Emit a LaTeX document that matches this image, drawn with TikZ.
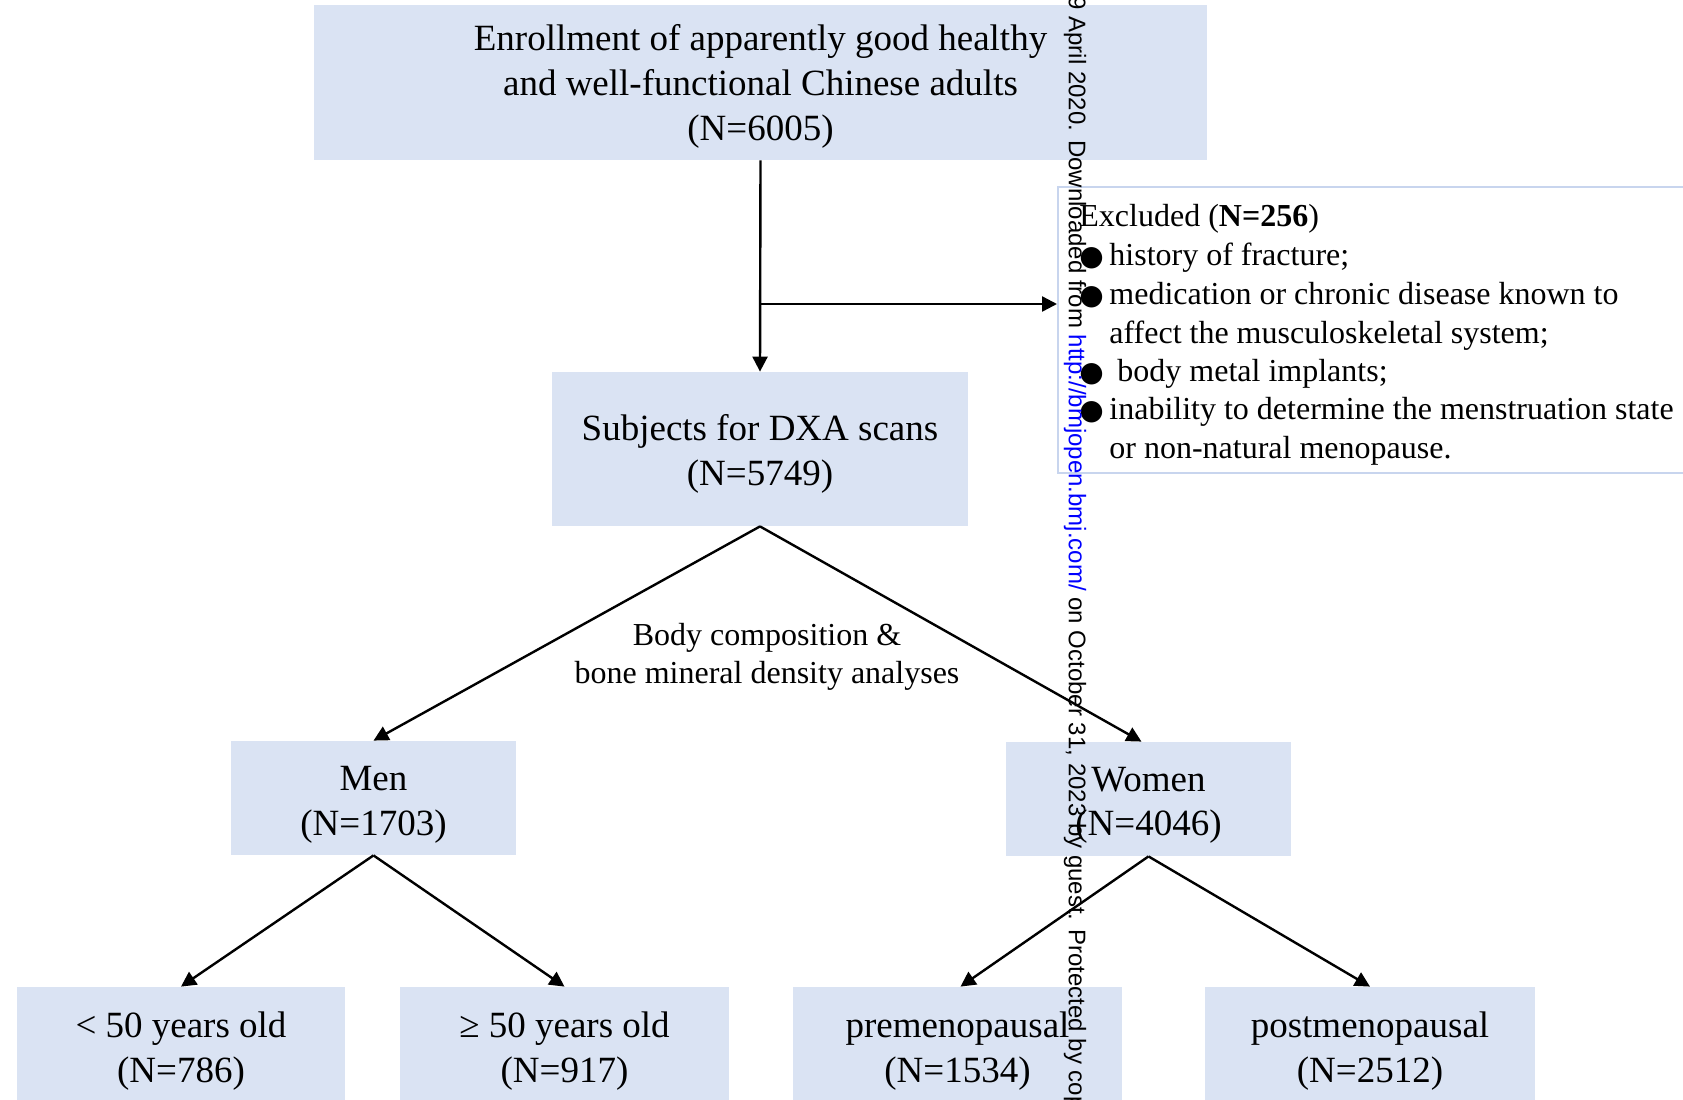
\documentclass[tikz,border=0pt]{standalone}
\usepackage{fontspec}
\setmainfont{Liberation Serif}
\newfontfamily\wmfont{Liberation Sans}
\newfontfamily\symfont{DejaVu Sans}
\usetikzlibrary{arrows.meta}
\definecolor{boxfill}{HTML}{DAE3F3}
\definecolor{exclborder}{HTML}{C8D5EE}
\definecolor{linkblue}{HTML}{0000FF}
\newcommand{\bul}{\makebox[15pt][l]{\symfont\fontsize{14}{14}\selectfont ●}}
\begin{document}
\begin{tikzpicture}[x=0.5pt,y=-0.5pt,
  box/.style={fill=boxfill, draw=none, inner sep=0pt},
  boxtext/.style={inner sep=0pt, align=center, font=\fontsize{18.5}{22.4}\selectfont},
  arr/.style={-{Triangle[length=7.5pt,width=7.5pt]}, line width=1.2pt},
  exline/.style={anchor=base west, inner sep=0pt, font=\fontsize{16}{19.2}\selectfont}]
\useasboundingbox (0,0) rectangle (1683,1099);
\fill[white] (0,0) rectangle (1683,1099);

% boxes
\node[box, minimum width=446.5pt, minimum height=77.5pt] (top) at (760.5,82.5) {};
\node[box, minimum width=208pt, minimum height=77pt] (subj) at (760,449) {};
\node[box, minimum width=142.5pt, minimum height=57pt] (men) at (373.5,798) {};
\node[box, minimum width=142.5pt, minimum height=57pt] (women) at (1148.5,799) {};
\node[box, minimum width=164pt, minimum height=62pt] (lt) at (181,1049) {};
\node[box, minimum width=164.5pt, minimum height=62pt] (ge) at (564.5,1049) {};
\node[box, minimum width=164.5pt, minimum height=62pt] (pre) at (957.5,1049) {};
\node[box, minimum width=165pt, minimum height=62pt] (post) at (1370,1049) {};

% box texts
\node[boxtext] (topt) at ([yshift=-2.1pt]top.center)
  {Enrollment of apparently good healthy\\and well-functional Chinese adults\\(N=6005)};
\node[boxtext] (subjt) at ([yshift=-2.6pt]subj.center) {Subjects for DXA scans\\(N=5749)};
\node[boxtext] (ment) at ([yshift=-3.6pt]men.center) {Men\\(N=1703)};
\node[boxtext] (woment) at ([yshift=-3.2pt]women.center) {Women\\(N=4046)};
\node[boxtext] (ltt) at ([yshift=-1pt]lt.center) {< 50 years old\\(N=786)};
\node[boxtext] (get) at ([yshift=-1pt]ge.center) {≥ 50 years old\\(N=917)};
\node[boxtext] (pret) at ([yshift=-1pt]pre.center) {premenopausal\\(N=1534)};
\node[boxtext] (postt) at ([yshift=-1pt]post.center) {postmenopausal\\(N=2512)};

% excluded box
\node[draw=exclborder, line width=0.8pt, fill=white, inner sep=0pt,
  minimum width=330pt, minimum height=143pt, anchor=north west] (exclbox) at (1057,186) {};
\node[exline] (ex0) at (1079,226) {Excluded (\textbf{N=256})};
\node[exline] (ex1) at (1079,265) {\bul history of fracture;};
\node[exline] (ex2) at (1079,304) {\bul medication or chronic disease known to};
\node[exline] (ex3) at (1079,343) {\hspace{15pt}affect the musculoskeletal system;};
\node[exline] (ex4) at (1079,381) {\bul\ body metal implants;};
\node[exline] (ex5) at (1079,419) {\bul inability to determine the menstruation state};
\node[exline] (ex6) at (1079,458) {\hspace{15pt}or non-natural menopause.};

% label
\node[inner sep=0pt, align=center, font=\fontsize{16}{19.3}\selectfont] (lbl) at (767,657)
  {Body composition \&\\bone mineral density analyses};

% connectors
\draw[arr] (top.south) -- (subj.north);
\coordinate (branch) at (760,304);
\draw[arr] (branch) -- (branch -| exclbox.west);
\draw[arr] (subj.south) -- (men.north);
\draw[arr] (subj.south) -- ([xshift=-3.5pt]women.north);
\draw[arr] (men.south) -- (lt.north);
\draw[arr] (men.south) -- (ge.north);
\draw[arr] (women.south) -- ([xshift=1.5pt]pre.north);
\draw[arr] (women.south) -- (post.north);

% watermark
\node[rotate=-90, anchor=west, inner sep=0pt, font=\wmfont\fontsize{12}{12}\selectfont] (wm) at (1075,-4)
  {9 April 2020. Downloaded from {\color{linkblue}http://bmjopen.bmj.com/} on October 31, 2023 by guest. Protected by copyright.};
\end{tikzpicture}
\end{document}
